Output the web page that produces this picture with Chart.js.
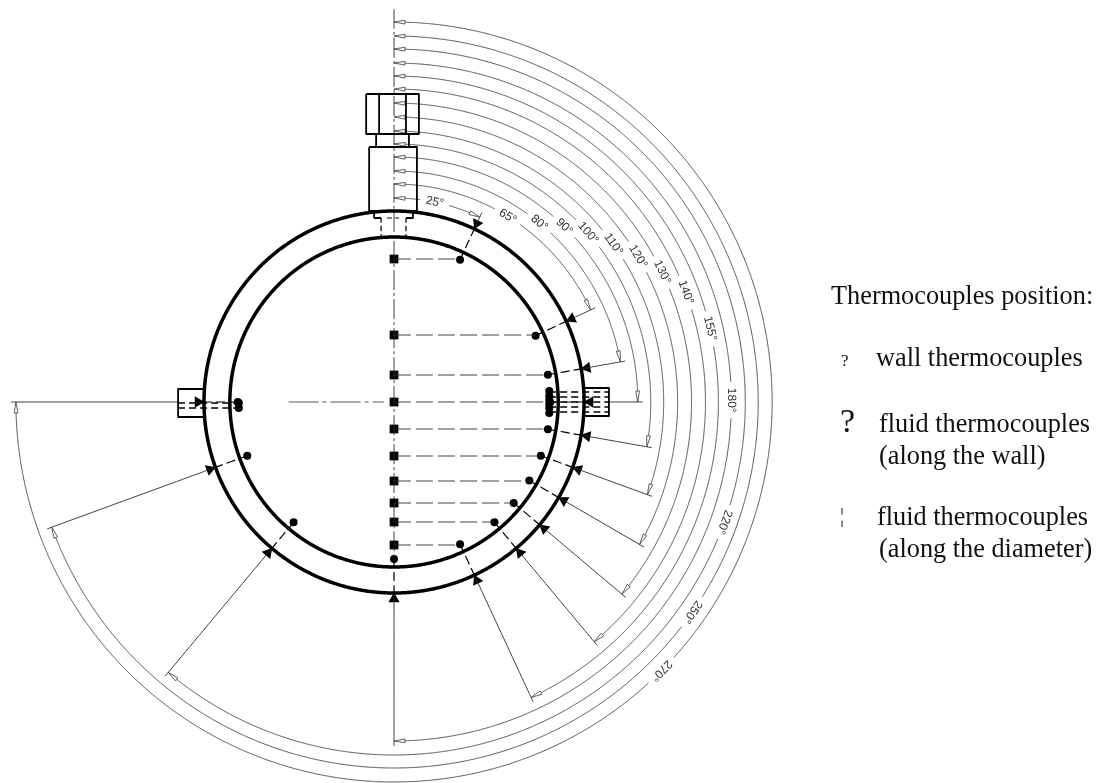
<!DOCTYPE html>
<html>
<head>
<meta charset="utf-8">
<script src="https://cdn.jsdelivr.net/npm/chart.js@4"></script>
<style>
  html, body { margin: 0; padding: 0; background: #fff; }
  canvas { display: block; }
</style>
</head>
<body>
<canvas id="sectionChart" width="1100" height="783"></canvas>
<script>
// thermocouple stations, angle clockwise from top, and the radius of each dimension arc
const stationAngles = [25, 65, 80, 90, 100, 110, 120, 130, 140, 155, 180, 220, 250, 270];
const arcRadii = [204, 218, 231, 245, 258, 271, 285, 299, 313, 326, 339, 353, 366, 380];
const arcLabels = ["25°", "65°", "80°", "90°", "100°", "110°", "120°", "130°", "140°", "155°", "180°", "220°", "250°", "270°"];
const labelAngles = [11.6, 31.6, 39.2, 44.3, 49.1, 54.4, 59.3, 64.3, 69.5, 77, 89.7, 109.9, 125, 135];

// fluid thermocouples on the diameter, height above the centre
const diameterLevels = [143, 67, 27, 0, -27, -54, -79, -101, -120, -143];

const outerRingRadius = 191;
const innerRingRadius = 165;
const wallPointRadius = 157;

// extra sensors that go in through the side plugs
const rightClusterLevels = [11, 6, 2, -2, -6, -11];
const rightPlugLevels = [10, 5, 0, -5, -10];
const leftClusterLevels = [-1, -6];

// outlines of the plugs and the top fitting
const rightPlug = [[189, 14], [216, 14], [216, -14], [189, -14]];
const leftPlug = [[-190, 13], [-217, 13], [-217, -15], [-190, -15]];
const upperBlock = [[-28, 308], [25, 308], [25, 268], [-28, 268], [-28, 308]];
const upperSepLeft = [[-15, 308], [-15, 268]];
const upperSepRight = [[12, 308], [12, 268]];
const neckBlock = [[-18, 268], [-18, 255], [15, 255], [15, 268]];
const lowerBlock = [[-25, 255], [23, 255], [23, 191], [-25, 191], [-25, 255]];
const flangeLeft = [[-20, 191], [-20, 184], [-13, 184]];
const flangeRight = [[19, 191], [19, 184], [12, 184]];
const boreLeft = [[-13, 184], [-13, 165]];
const boreRight = [[12, 184], [12, 165]];
const boreMid = [[-7, 184], [5, 184]];

const legendTitle = "Thermocouples position:";
const legendWall = "wall thermocouples";
const legendFluidWall = ["fluid thermocouples", "(along the wall)"];
const legendFluidDiameter = ["fluid thermocouples", "(along the diameter)"];

const toRad = (deg) => (deg * Math.PI) / 180;
const polar = (r, deg) => ({ x: r * Math.sin(toRad(deg)), y: r * Math.cos(toRad(deg)) });
const xy = (list) => list.map((p) => ({ x: p[0], y: p[1] }));

const arcPoints = (r, from, to) => {
  const pts = [];
  for (let a = from; a < to; a += 0.5) pts.push(polar(r, a));
  pts.push(polar(r, to));
  return pts;
};

// tiny tension keeps Chart.js off its fast path, which snaps near-vertical runs to whole pixels
const line = (data, width, dash) => ({
  type: "scatter",
  data: data,
  showLine: true,
  tension: 0.001,
  borderColor: width < 1 ? "#2a2a2a" : "#000",
  borderWidth: width,
  borderDash: dash || [],
  borderJoinStyle: "round",
  pointRadius: 0,
  fill: false,
});

const datasets = [];
const DASH = [17, 5];
const AXIS = [20, 3, 3, 3];

// rings
datasets.push(line(arcPoints(outerRingRadius, 0, 360), 3.5));
datasets.push(line(arcPoints(innerRingRadius, 0, 360), 3.5));

// fitting
[upperBlock, upperSepLeft, upperSepRight, neckBlock, lowerBlock, flangeLeft, flangeRight, rightPlug, leftPlug].forEach((o) => {
  datasets.push(line(xy(o), 1.8));
});
[boreLeft, boreRight].forEach((o) => datasets.push(line(xy(o), 1.2, [5, 3])));
datasets.push(line(xy(boreMid), 1.2, [5, 3]));

// axes
datasets.push(line([{ x: 0, y: 393 }, { x: 0, y: -157 }], 0.9, AXIS));
datasets.push(line([{ x: -106, y: 0 }, { x: -10, y: 0 }], 0.8, [30, 4, 4, 4]));

// dashed lines from the squares out to the wall points
stationAngles.forEach((angle, i) => {
  if (i < diameterLevels.length) {
    const end = polar(wallPointRadius, angle);
    datasets.push(line([{ x: 0, y: diameterLevels[i] }, { x: end.x, y: diameterLevels[i] }], 0.9, DASH));
  }
});

// side plug wires
rightPlugLevels.forEach((y) => datasets.push(line([{ x: 156, y: y }, { x: 216, y: y }], 1.3, [7, 4])));
leftClusterLevels.forEach((y) => datasets.push(line([{ x: -217, y: y }, { x: -156, y: y }], 1.3, [7, 4])));

// radial leaders, dimension arcs and their open arrow heads
stationAngles.forEach((angle, i) => {
  const r = arcRadii[i];
  const solidFrom = angle === 90 ? 216 : angle === 270 ? 217 : outerRingRadius;

  datasets.push(line([polar(wallPointRadius, angle), polar(outerRingRadius, angle)], 1.2, [9, 4]));
  datasets.push(line([polar(solidFrom, angle), polar(r + 5, angle)], 0.9));

  const headDeg = (11 / r) * (180 / Math.PI);
  const gapDeg = ((arcLabels[i].length > 3 ? 18 : 15) / r) * (180 / Math.PI);
  datasets.push(line(arcPoints(r, headDeg, labelAngles[i] - gapDeg), 0.8));
  datasets.push(line(arcPoints(r, labelAngles[i] + gapDeg, angle - headDeg), 0.8));

  // head at the top axis and head at the leader
  [[0, headDeg], [angle, angle - headDeg]].forEach(([tip, base]) => {
    const head = [polar(r, tip), polar(r + 1.9, base), polar(r - 1.9, base), polar(r, tip)];
    datasets.push(line(head, 0.8));
  });
});

// filled arrow heads on the outer ring
datasets.push({
  type: "scatter",
  data: stationAngles.map((angle) => polar(outerRingRadius + 6, angle)),
  pointStyle: "triangle",
  pointRadius: 6.5,
  pointRotation: stationAngles.map((angle) => angle + 180),
  backgroundColor: "#000",
  borderColor: "#000",
  borderWidth: 0,
});

// fluid thermocouples along the wall
datasets.push({
  type: "scatter",
  data: stationAngles.map((angle) => polar(wallPointRadius, angle))
    .concat(rightClusterLevels.map((y) => ({ x: 156, y: y })))
    .concat(leftClusterLevels.map((y) => ({ x: -156, y: y }))),
  pointStyle: "circle",
  pointRadius: 4,
  backgroundColor: "#000",
  borderWidth: 0,
});

// fluid thermocouples along the diameter
datasets.push({
  type: "scatter",
  data: diameterLevels.map((y) => ({ x: 0, y: y })),
  pointStyle: "rect",
  pointRadius: 6.2,
  backgroundColor: "#000",
  borderWidth: 0,
});

const textPlugin = {
  id: "drawingText",
  afterDatasetsDraw(chart) {
    const ctx = chart.ctx;
    const sx = chart.scales.x;
    const sy = chart.scales.y;

    // arc labels sit on their arc, turned with it
    ctx.save();
    ctx.fillStyle = "#333";
    ctx.font = '12px "Liberation Sans"';
    ctx.textAlign = "center";
    ctx.textBaseline = "middle";
    arcLabels.forEach((label, i) => {
      const p = polar(arcRadii[i], labelAngles[i]);
      ctx.save();
      ctx.translate(sx.getPixelForValue(p.x), sy.getPixelForValue(p.y));
      ctx.rotate(toRad(labelAngles[i]));
      ctx.fillText(label, 0, 0);
      ctx.restore();
    });
    ctx.restore();

    // legend block
    ctx.save();
    ctx.fillStyle = "#111";
    ctx.textAlign = "left";
    ctx.textBaseline = "alphabetic";
    ctx.font = '26.3px "Liberation Serif"';
    ctx.fillText(legendTitle, 831, 304);
    ctx.fillText(legendWall, 876, 366);
    ctx.fillText(legendFluidWall[0], 879, 432);
    ctx.fillText(legendFluidWall[1], 879, 464);
    ctx.fillText(legendFluidDiameter[0], 877, 525);
    ctx.fillText(legendFluidDiameter[1], 879, 557);
    ctx.font = '17px "Liberation Serif"';
    ctx.fillText("?", 841, 366);
    ctx.font = '34px "Liberation Serif"';
    ctx.fillText("?", 840, 432);
    ctx.font = '20px "Liberation Serif"';
    ctx.fillText("¦", 840, 522);
    ctx.restore();
  },
};

new Chart(document.getElementById("sectionChart").getContext("2d"), {
  type: "scatter",
  data: { datasets: datasets },
  options: {
    responsive: false,
    animation: false,
    layout: { padding: 0, autoPadding: false },
    plugins: { legend: { display: false }, tooltip: { enabled: false } },
    scales: {
      x: { type: "linear", min: -396, max: 709.5, display: false },
      y: { type: "linear", min: -381, max: 402, display: false },
    },
  },
  plugins: [textPlugin],
});
</script>
</body>
</html>
